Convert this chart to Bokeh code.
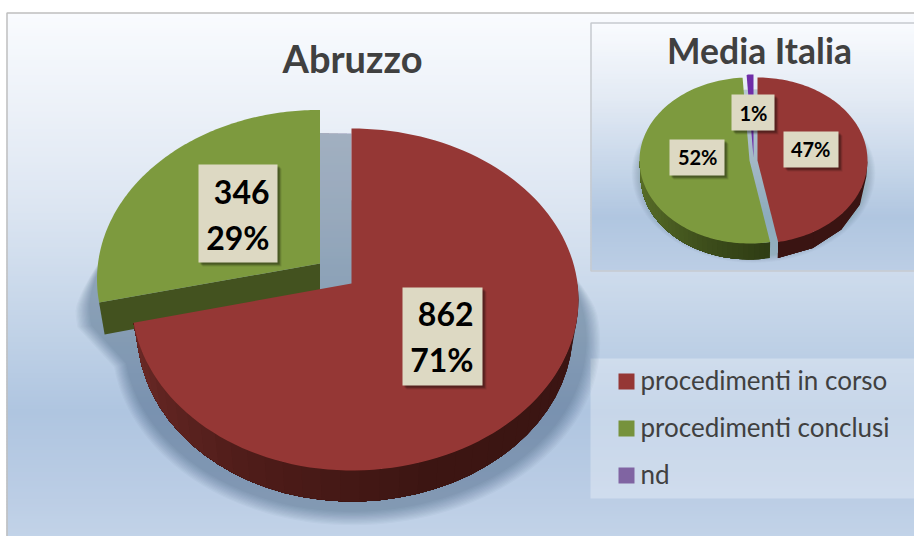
from bokeh.plotting import figure
from bokeh.embed import file_html
from bokeh.resources import INLINE
from bokeh.models import Range1d
from bokeh.core.properties import value
import numpy as np

# ---- data
categories = ["procedimenti in corso", "procedimenti conclusi", "nd"]
abruzzo_values = [862, 346]
abruzzo_pct = [71, 29]
italia_pct = [47, 52, 1]
title_main = "Abruzzo"
title_inset = "Media Italia"

# ---- style
top_colors = ["#953735", "#7d9a3e", "#6f2da8"]
legend_colors = ["#953735", "#76923c", "#8064a2"]
TXT = "#404040"
LABEL_BG = "#ddd9c3"
FONT = "Lato"
BASE_FIX = 0.4   # svg text sits lower than the requested alphabetic baseline
BASE_FIX_T = 0.34

W, H = 914, 536
p = figure(width=W, height=H, x_range=Range1d(0, W), y_range=Range1d(H, 0),
           toolbar_location=None, output_backend="svg", min_border=0,
           background_fill_color="white", border_fill_color="white")
p.axis.visible = False
p.grid.visible = False
p.outline_line_color = None


def hexrgb(h):
    return np.array([int(h[i:i + 2], 16) for i in (1, 3, 5)], float)


def mix(stops, f):
    fs = [s[0] for s in stops]
    cs = np.array([hexrgb(s[1]) for s in stops])
    rgb = [np.interp(f, fs, cs[:, i]) for i in range(3)]
    return "#%02x%02x%02x" % tuple(int(round(v)) for v in rgb)


BG_STOPS = [(0, "#f9fbfe"), (0.18, "#ecf1f8"), (0.36, "#dde6f2"), (0.56, "#c6d6e9"),
            (0.76, "#afc5e0"), (0.92, "#bbcde5"), (1, "#c2d3e8")]


def gradient(x0, x1, y0, y1, stops, step=3):
    ys = np.arange(y0, y1, step)
    p.quad(left=x0, right=x1, top=ys, bottom=np.minimum(ys + step + 0.6, y1),
           fill_color=[mix(stops, (y - y0) / (y1 - y0)) for y in ys], line_color=None)


def pt(theta, g):
    t = np.radians(theta)
    s, c = np.sin(t), -np.cos(t)
    d = 1 + g["b"] * c
    ax = np.where(s > 0, g["Ar"], g["Al"])
    return g["cx"] + ax * s / d, g["cy"] + g["a"] * c / d


def wedge(t0, t1, g):
    th = np.linspace(t0, t1, 120)
    x, y = pt(th, g)
    return [g["cx"], *x], [g["cy"], *y]


def side(t0, t1, g, stops, n=36):
    """Outer wall of a slice: overlapping strips, painted so no seams show."""
    th = np.linspace(t0, t1, n + 1)
    x, y = pt(th, g)
    xb = g["cx"] + (x - g["cx"]) * g["shrink"]
    yb = y + g["depth"]
    xs, ys, cs = [], [], []
    for i in range(n):
        xs.append([*x[i:], *xb[i:][::-1]])
        ys.append([*y[i:], *yb[i:][::-1]])
        cs.append(mix(stops, (th[i] - 90) / 180))
    p.patches(xs, ys, fill_color=cs, line_color=None)


def blurred(xo, yo, cx, cy, sx, sy, blur, step_alpha, layers=12, y_fade=None):
    """Soft shadow: the outline grown step by step, mainly sideways and down."""
    xo, yo = np.asarray(xo), np.asarray(yo)
    fade = np.ones_like(xo) if y_fade is None else np.clip((yo - y_fade[0]) / (y_fade[1] - y_fade[0]), 0, 1)
    for k in range(layers, 0, -1):
        d = blur * k / layers
        x = cx + (xo - cx) * (1 + fade * d / sx)
        y = np.where(yo > cy, cy + (yo - cy) * (1 + d / sy), yo)
        p.patch(x, y, fill_color="#123546", fill_alpha=step_alpha, line_color=None)


def label(x0, x1, y0, y1, lines, right, bases, size):
    for k, a in ((4, .10), (3, .16), (2, .22)):
        p.quad(left=x0 + k, right=x1 + k, top=y0 + k, bottom=y1 + k,
               fill_color="#000000", fill_alpha=a, line_color=None)
    p.quad(left=x0, right=x1, top=y0, bottom=y1, fill_color=LABEL_BG, line_color=None)
    p.text(x=[right] * len(lines), y=[b - size * BASE_FIX for b in bases], text=lines,
           text_font=value(FONT), text_font_style="bold", text_font_size=f"{size}px",
           text_color="#000000", text_align="right", text_baseline="alphabetic")


# ---- backgrounds
gradient(6, W, 12, H, BG_STOPS)
p.line([6.5, 6.5, W], [H, 12.5, 12.5], line_color="#bfbfbf", line_width=1.5)

INSET_STOPS = [(0, "#f9fbfe"), (0.3, "#e3eaf4"), (0.55, "#c9d8ea"), (0.78, "#b0c6e0"), (1, "#bccee5")]
gradient(590, W, 22, 270, INSET_STOPS)
p.line([W, 590.5, 590.5, W], [22.5, 22.5, 270.5, 270.5], line_color="#c6cacf", line_width=1.5)

# ---- legend
p.quad(left=590, right=W, top=358, bottom=498, fill_color="#ffffff", fill_alpha=0.3, line_color=None)
p.rect(x=[626] * 3, y=[381, 428, 475], width=16, height=16, fill_color=legend_colors, line_color=None)
p.text(x=[640] * 3, y=[b - 26 * BASE_FIX_T for b in (388, 435, 482)], text=categories,
       text_font=value(FONT), text_font_size="26px",
       text_color=TXT, text_align="left", text_baseline="alphabetic")

# ---- main pie
main_share = np.array(abruzzo_values, float) / sum(abruzzo_values) * 360
g_red = dict(cx=351, cy=283, Ar=226, Al=219, a=169.5, b=-0.0936, depth=31, shrink=0.975)
g_green = dict(g_red, cx=319.5, cy=263, Al=222, a=168)

# shadow outline: red rim, then green rim, then across the gap between the two
th_r = np.linspace(60, main_share[0], 90)
xr, yr = pt(th_r, g_red)
xr = g_red["cx"] + (xr - g_red["cx"]) * 1.03
yr = yr + 40
th_g = np.linspace(main_share[0], 360, 60)
xg, yg = pt(th_g, g_green)
xg = g_green["cx"] + (xg - g_green["cx"]) * (1.0 + 0.03 * np.clip((yg - 230) / 50, 0, 1))
yg = yg + 23
blurred([*xr, *xg, 351, 351], [*yr, *yg, 133, 200], 340, 300, 230, 200, 14, 0.027, y_fade=(250, 310))

# green
x0, y0 = pt(np.array(main_share[0]), g_green)
xb0 = g_green["cx"] + (x0 - g_green["cx"]) * g_green["shrink"]
p.patch([x0, g_green["cx"], g_green["cx"], xb0], [y0, g_green["cy"], g_green["cy"] + 31, y0 + 32],
        fill_color="#43521f", line_color=None)
xs, ys = wedge(main_share[0], 360, g_green)
p.patch(xs, ys, fill_color=top_colors[1], line_color=None)
# red
side(90, main_share[0], g_red,
     [(0, "#3a1513"), (0.38, "#3c1512"), (0.62, "#4e1c19"), (0.92, "#6d2a27"), (1, "#742b28")])
xs, ys = wedge(0, main_share[0], g_red)
p.patch(xs, ys, fill_color=top_colors[0], line_color=None)

# ---- inset pie
ins = np.cumsum(np.array(italia_pct, float) / sum(italia_pct) * 360)
g_i_red = dict(cx=757, cy=160, Ar=110, Al=110, a=83, b=0.0, depth=16, shrink=0.99)
g_i_green = dict(g_i_red, cx=749)
g_i_nd = dict(g_i_red, cx=753, cy=157)
th = np.linspace(0, 360, 160)
xc, yc = pt(th, dict(g_i_red, cx=753, cy=172, Ar=114, Al=114))
blurred(xc, yc, 753, 172, 114, 90, 8, 0.016)
side(ins[0], 270, g_i_green,
     [(0.4, "#2c3912"), (0.6, "#3b4b1a"), (0.8, "#4f6324"), (1, "#5c7229")])
xs, ys = wedge(ins[0], ins[1], g_i_green)
p.patch(xs, ys, fill_color=top_colors[1], line_color=None)
side(90, ins[0], g_i_red, [(0, "#3a1412"), (1, "#3a1412")], n=4)
xs, ys = wedge(0, ins[0], g_i_red)
p.patch(xs, ys, fill_color=top_colors[0], line_color=None)
xs, ys = wedge(ins[1], 360, g_i_nd)
p.patch(xs, ys, fill_color=top_colors[2], line_color=None)

# ---- data labels
label(198, 277, 164, 262, [str(abruzzo_values[1]), f"{abruzzo_pct[1]}%"], 269, [204, 250], 32)
label(402, 482, 287, 385, [str(abruzzo_values[0]), f"{abruzzo_pct[0]}%"], 473, [326, 372], 32)
label(783, 838, 131, 167, [f"{italia_pct[0]}%"], 830, [156], 20)
label(669, 724, 139, 175, [f"{italia_pct[1]}%"], 717, [164], 20)
label(731, 774, 94, 130, [f"{italia_pct[2]}%"], 767, [120], 20)

# ---- titles
p.text(x=[352], y=[70 - 38 * BASE_FIX_T], text=[title_main], text_font=value(FONT), text_font_style="bold",
       text_font_size="38px", text_color=TXT, text_align="center", text_baseline="alphabetic")
p.text(x=[759], y=[62 - 35.5 * BASE_FIX_T], text=[title_inset], text_font=value(FONT), text_font_style="bold",
       text_font_size="35.5px", text_color=TXT, text_align="center", text_baseline="alphabetic")

open("out.html", "w").write(file_html(p, INLINE))
